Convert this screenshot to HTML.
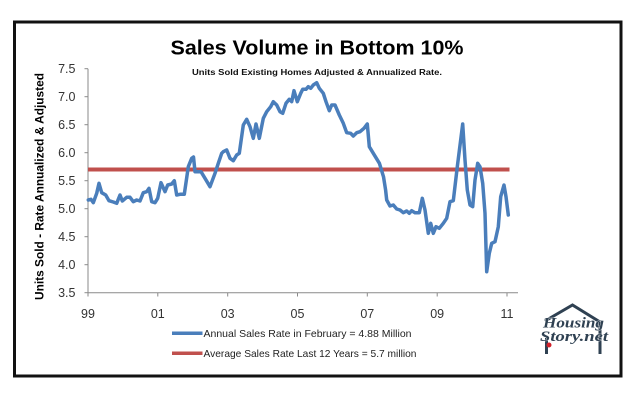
<!DOCTYPE html>
<html><head><meta charset="utf-8"><style>
html,body{margin:0;padding:0;background:#fff;width:640px;height:405px;overflow:hidden}
svg{display:block}
</style></head><body>
<svg width="640" height="405" viewBox="0 0 640 405" xmlns="http://www.w3.org/2000/svg">
<rect x="0" y="0" width="640" height="405" fill="#fff"/>
<rect x="14.5" y="22" width="606.5" height="354" fill="#fff" stroke="#111" stroke-width="3"/>
<text x="317" y="54.5" font-family="Liberation Sans, sans-serif" font-weight="bold" font-size="20.5" text-anchor="middle" textLength="293" lengthAdjust="spacingAndGlyphs" fill="#000">Sales Volume in Bottom 10%</text>
<text x="317" y="75" font-family="Liberation Sans, sans-serif" font-weight="bold" font-size="8.6" text-anchor="middle" textLength="250" lengthAdjust="spacingAndGlyphs" fill="#111">Units Sold Existing Homes Adjusted &amp; Annualized Rate.</text>
<text transform="translate(43.5,186.5) rotate(-90)" font-family="Liberation Sans, sans-serif" font-weight="bold" font-size="12" text-anchor="middle" textLength="227" lengthAdjust="spacingAndGlyphs" fill="#000">Units Sold - Rate Annualized &amp; Adjusted</text>
<g stroke="#8a8a8a" stroke-width="1" fill="none">
<line x1="88" y1="68.7" x2="88" y2="292.7"/>
<line x1="88" y1="292.7" x2="518" y2="292.7"/>
<line x1="84.5" y1="68.7" x2="88" y2="68.7"/>
<line x1="84.5" y1="96.7" x2="88" y2="96.7"/>
<line x1="84.5" y1="124.7" x2="88" y2="124.7"/>
<line x1="84.5" y1="152.7" x2="88" y2="152.7"/>
<line x1="84.5" y1="180.7" x2="88" y2="180.7"/>
<line x1="84.5" y1="208.7" x2="88" y2="208.7"/>
<line x1="84.5" y1="236.7" x2="88" y2="236.7"/>
<line x1="84.5" y1="264.7" x2="88" y2="264.7"/>
<line x1="84.5" y1="292.7" x2="88" y2="292.7"/>
<line x1="88" y1="292.7" x2="88" y2="296.5"/>
<line x1="157.8" y1="292.7" x2="157.8" y2="296.5"/>
<line x1="227.7" y1="292.7" x2="227.7" y2="296.5"/>
<line x1="297.5" y1="292.7" x2="297.5" y2="296.5"/>
<line x1="367.3" y1="292.7" x2="367.3" y2="296.5"/>
<line x1="437.2" y1="292.7" x2="437.2" y2="296.5"/>
<line x1="507" y1="292.7" x2="507" y2="296.5"/>
</g>
<g font-family="Liberation Sans, sans-serif" font-size="12.5" fill="#333" text-anchor="end">
<text x="75.5" y="73.2">7.5</text>
<text x="75.5" y="101.2">7.0</text>
<text x="75.5" y="129.2">6.5</text>
<text x="75.5" y="157.2">6.0</text>
<text x="75.5" y="185.2">5.5</text>
<text x="75.5" y="213.2">5.0</text>
<text x="75.5" y="241.2">4.5</text>
<text x="75.5" y="269.2">4.0</text>
<text x="75.5" y="297.2">3.5</text>
</g>
<g font-family="Liberation Sans, sans-serif" font-size="12.5" fill="#333" text-anchor="middle">
<text x="88" y="318">99</text>
<text x="157.8" y="318">01</text>
<text x="227.7" y="318">03</text>
<text x="297.5" y="318">05</text>
<text x="367.3" y="318">07</text>
<text x="437.2" y="318">09</text>
<text x="507" y="318">11</text>
</g>
<line x1="88" y1="169.5" x2="509.5" y2="169.5" stroke="#c0504d" stroke-width="4"/>
<polyline fill="none" stroke="#4a7ebb" stroke-width="3.5" stroke-linejoin="round" stroke-linecap="round" points="88.3,200 91,199.3 93.3,202.7 96.7,193.3 99,183.3 101.7,192.7 105.7,195 109,200.7 113.3,202 116.7,203.3 120,195 122.3,201 126.7,197.3 130,197.3 133.3,201.7 136.7,200 140,201 143.3,192.7 146.7,191.7 149,188.3 151.7,201.7 155,202.7 157.7,198.3 161,182.7 165,191.7 167.7,185 171.7,184 174.3,180.7 176.7,195 180,194.3 184.3,194.3 188.3,166.7 191.7,158.3 193.5,157 195,171.7 198.3,171.7 201,171.7 205,178.3 210,186.7 215,173.3 218.3,163.3 221.7,153.3 223.3,151.7 226.7,150 230,158.3 233.3,160.7 236.7,155 239.3,153.3 243.3,125 246.7,119.3 250,126.7 253.3,138.3 256,124 259.3,138.3 263.3,118.3 266.7,111.7 270.7,106.7 273.3,101.7 276.7,105 280,111.7 282.7,113.3 286,103.3 289.3,99.3 291.7,101.7 294,90.7 297.3,101.7 300.7,93.3 302.7,89.3 306,89.3 308.3,86.7 310.7,88.3 313.3,85 316.7,82.7 319.3,88.3 323.3,93.3 326,101.7 329.3,110.7 331.7,105 335,105 339.3,115 343.3,123.3 346.7,132.7 350.7,133.3 353.3,136 356.7,132.7 360,131.7 364,128.3 367.3,124 369.3,146.7 373.3,153.3 379.4,163.3 383.5,176.7 385.6,190 386.7,200 390,206 393.3,205 396.7,209 400,210 403.3,212.7 406.7,211 409.3,213.3 411.7,210.7 415,212.7 419.3,212.7 422.3,198.3 425,210 428.3,233.3 430.7,223.3 433.3,233.3 436,226.7 439.3,228.3 443.3,223.3 446.7,218.3 450,201.7 453.3,200.7 457.3,166.7 462.7,124 465,160 467.3,190 470,205 472.7,206.7 475,180 477.7,163.3 480,166.7 482.7,183.3 485,213.3 486.7,271.7 489.3,253.3 491.7,243.3 495,241.7 498.3,226.7 500.7,196.7 504,185 506,196.7 508.3,215"/>
<line x1="172" y1="333.3" x2="202.5" y2="333.3" stroke="#4a7ebb" stroke-width="3.5"/>
<line x1="172" y1="353.3" x2="202.5" y2="353.3" stroke="#c0504d" stroke-width="3.5"/>
<text x="203.5" y="336.8" font-family="Liberation Sans, sans-serif" font-size="10.5" fill="#222" textLength="208" lengthAdjust="spacingAndGlyphs">Annual Sales Rate in February = 4.88 Million</text>
<text x="203.5" y="356.8" font-family="Liberation Sans, sans-serif" font-size="10.5" fill="#222" textLength="213" lengthAdjust="spacingAndGlyphs">Average Sales Rate Last 12 Years = 5.7 million</text>
<g stroke="#2f4152" stroke-width="3" fill="none" stroke-linejoin="miter">
<polyline points="545,321 572.5,305 600,322"/>
<line x1="546.5" y1="338" x2="546.5" y2="354"/>
<line x1="600" y1="322" x2="600" y2="354"/>
</g>
<g font-family="Liberation Serif, serif" font-style="italic" font-weight="bold" fill="#2f4152" stroke="#fff" stroke-width="0.6" paint-order="stroke">
<text x="543" y="327.5" font-size="15" textLength="61" lengthAdjust="spacingAndGlyphs">Housing</text>
<text x="540" y="341" font-size="15" textLength="68" lengthAdjust="spacingAndGlyphs">Story.net</text>
</g>
<circle cx="549" cy="345" r="2.5" fill="#d0202a"/>
</svg>
</body></html>
